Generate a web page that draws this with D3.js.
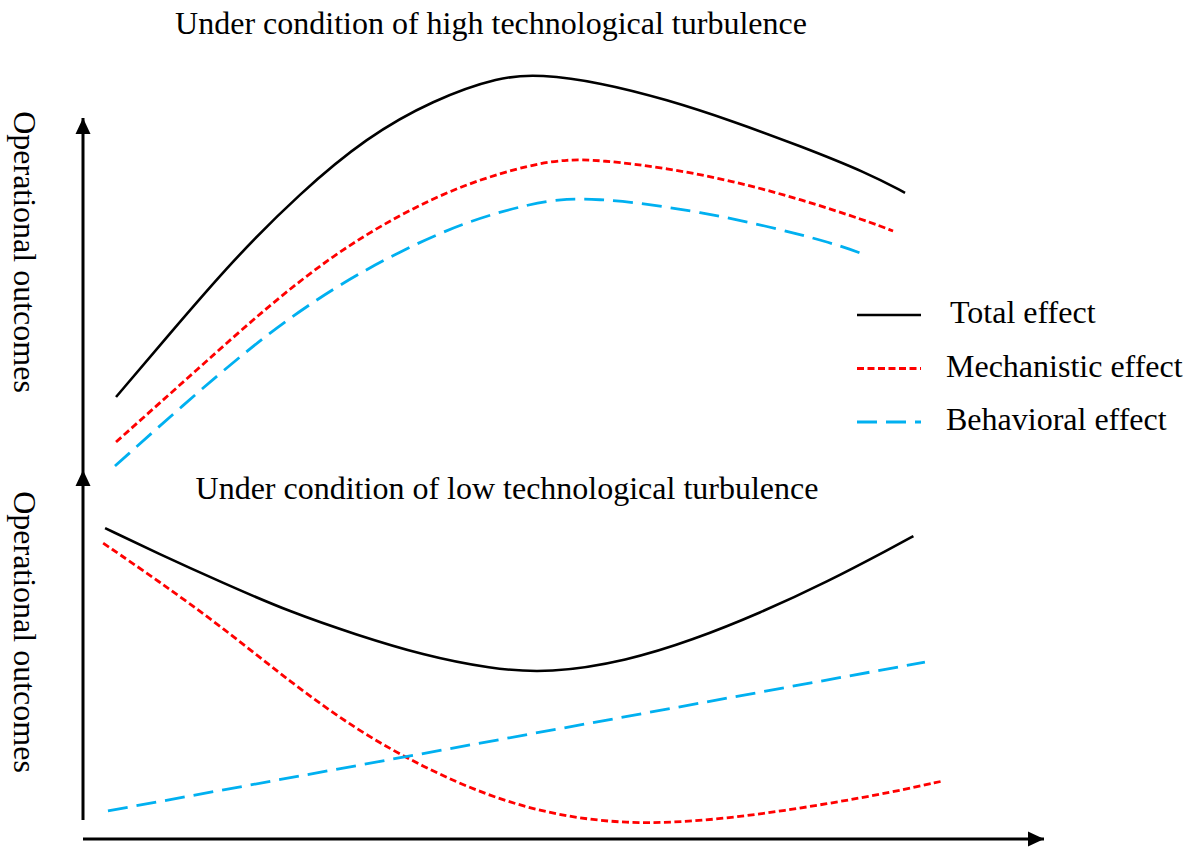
<!DOCTYPE html>
<html>
<head>
<meta charset="utf-8">
<script src="https://cdn.jsdelivr.net/npm/d3@7"></script>
<style>
  body { margin: 0; background: #fff; }
  svg { display: block; font-family: "Liberation Serif", "Times New Roman", serif; }
</style>
</head>
<body>
<div id="container"></div>
<script>
const width = 1204;
const height = 849;

// top panel: high technological turbulence
const highX = {
  total: [3.44, 8.75, 15.63, 22.6, 29.58, 36.46, 43.44, 47.6, 53.85, 60.83, 67.71, 74.69, 81.67, 85.63],
  mech: [3.44, 12.19, 19.17, 26.04, 33.02, 40.0, 46.88, 50.42, 53.85, 60.83, 67.71, 74.69, 81.67, 84.38],
  behav: [3.33, 12.19, 19.17, 26.04, 33.02, 40.0, 46.88, 50.42, 53.85, 57.29, 64.27, 71.25, 78.13, 81.67],
};
const highTotal = [18.25, 33.25, 52.5, 69.25, 83.25, 92.5, 98.4, 98.9, 96.9, 92.6, 87.2, 81.0, 74.3, 69.3];
const highMech = [7, 25.75, 40.75, 53.75, 64, 71.75, 76.5, 77.63, 77.5, 75.5, 72.25, 67.75, 62.25, 59.75];
const highBehav = [1, 20, 34, 45.5, 54.75, 62.25, 66.75, 67.88, 67.63, 67, 64.5, 61, 56.75, 53.6];

// bottom panel: low technological turbulence
const lowX = {
  total: [2.3, 7.7, 14.6, 21.6, 28.5, 35.4, 42.4, 48.6, 56.7, 63.5, 70.5, 77.5, 84.4, 86.5],
  mech: [2.1, 7.7, 14.6, 21.6, 28.5, 35.4, 42.4, 49.4, 56.7, 63.5, 70.5, 77.5, 84.4, 89.5],
  behav: [2.6, 87.7],
};
const lowTotal = [83.4, 76.3, 67.7, 59.4, 52.9, 47.1, 43.2, 41.9, 45.5, 51.4, 59.1, 68, 78, 81.1];
const lowMech = [79.1, 68.6, 54.9, 39.4, 25.7, 15.1, 6.6, 1.2, -1.1, -0.5, 1.6, 4.6, 8, 11.1];
const lowBehav = [2.6, 45.1];

const seriesNames = ["Total effect", "Mechanistic effect", "Behavioral effect"];
const seriesColors = ["#000000", "#ff0000", "#00b0f0"];
const seriesDash = [null, "7,3.5", "20,9"];
const seriesWidth = [2.6, 2.8, 2.8];

const x = d3.scaleLinear().domain([0, 100]).range([83, 1043]);
const yHigh = d3.scaleLinear().domain([0, 100]).range([470, 70]);
const yLow = d3.scaleLinear().domain([0, 100]).range([820, 470]);

const svg = d3.select("#container").append("svg")
  .attr("width", width)
  .attr("height", height);

const defs = svg.append("defs");
defs.append("marker")
  .attr("id", "arrow")
  .attr("viewBox", "0 0 16 16")
  .attr("refX", 16)
  .attr("refY", 8)
  .attr("markerWidth", 16)
  .attr("markerHeight", 16)
  .attr("markerUnits", "userSpaceOnUse")
  .attr("orient", "auto")
  .append("path")
  .attr("d", "M0,0.5 L16,8 L0,15.5 Z")
  .attr("fill", "#000");

// axes
const axes = svg.append("g").attr("stroke", "#000").attr("stroke-width", 3);
axes.append("line")
  .attr("x1", x(0)).attr("x2", x(0))
  .attr("y1", yHigh(0)).attr("y2", 118)
  .attr("marker-end", "url(#arrow)");
axes.append("line")
  .attr("x1", x(0)).attr("x2", x(0))
  .attr("y1", yLow(0)).attr("y2", yLow(100))
  .attr("marker-end", "url(#arrow)");
axes.append("line")
  .attr("x1", x(0)).attr("x2", x(100) + 1)
  .attr("y1", 839).attr("y2", 839)
  .attr("marker-end", "url(#arrow)");

const drawPanel = (xs, ys, yScale) => {
  const g = svg.append("g");
  ys.forEach((vals, i) => {
    const pts = vals.map((v, j) => [x(xs[i][j]), yScale(v)]);
    g.append("path")
      .attr("d", d3.line().curve(d3.curveBasis)(pts))
      .attr("fill", "none")
      .attr("stroke", seriesColors[i])
      .attr("stroke-width", seriesWidth[i])
      .attr("stroke-dasharray", seriesDash[i]);
  });
};

drawPanel([highX.total, highX.mech, highX.behav], [highTotal, highMech, highBehav], yHigh);
drawPanel([lowX.total, lowX.mech, lowX.behav], [lowTotal, lowMech, lowBehav], yLow);

// titles
svg.append("text")
  .attr("x", 491).attr("y", 34)
  .attr("text-anchor", "middle")
  .attr("font-size", 32)
  .text("Under condition of high technological turbulence");
svg.append("text")
  .attr("x", 507).attr("y", 499)
  .attr("text-anchor", "middle")
  .attr("font-size", 32)
  .text("Under condition of low technological turbulence");

// y labels
[252, 632].forEach((cy) => {
  svg.append("text")
    .attr("transform", `translate(14,${cy}) rotate(90)`)
    .attr("text-anchor", "middle")
    .attr("font-size", 32)
    .text("Operational outcomes");
});

// legend
const legend = svg.append("g").attr("transform", "translate(857,315)");
const item = legend.selectAll("g").data(seriesNames).join("g")
  .attr("transform", (d, i) => `translate(0,${i * 53.5})`);
item.append("line")
  .attr("x1", 0).attr("x2", 64)
  .attr("stroke", (d, i) => seriesColors[i])
  .attr("stroke-width", (d, i) => seriesWidth[i])
  .attr("stroke-dasharray", (d, i) => seriesDash[i]);
item.append("text")
  .attr("x", (d, i) => (i === 0 ? 93 : 89))
  .attr("y", 8)
  .attr("font-size", 32)
  .text((d) => d);
</script>
</body>
</html>
